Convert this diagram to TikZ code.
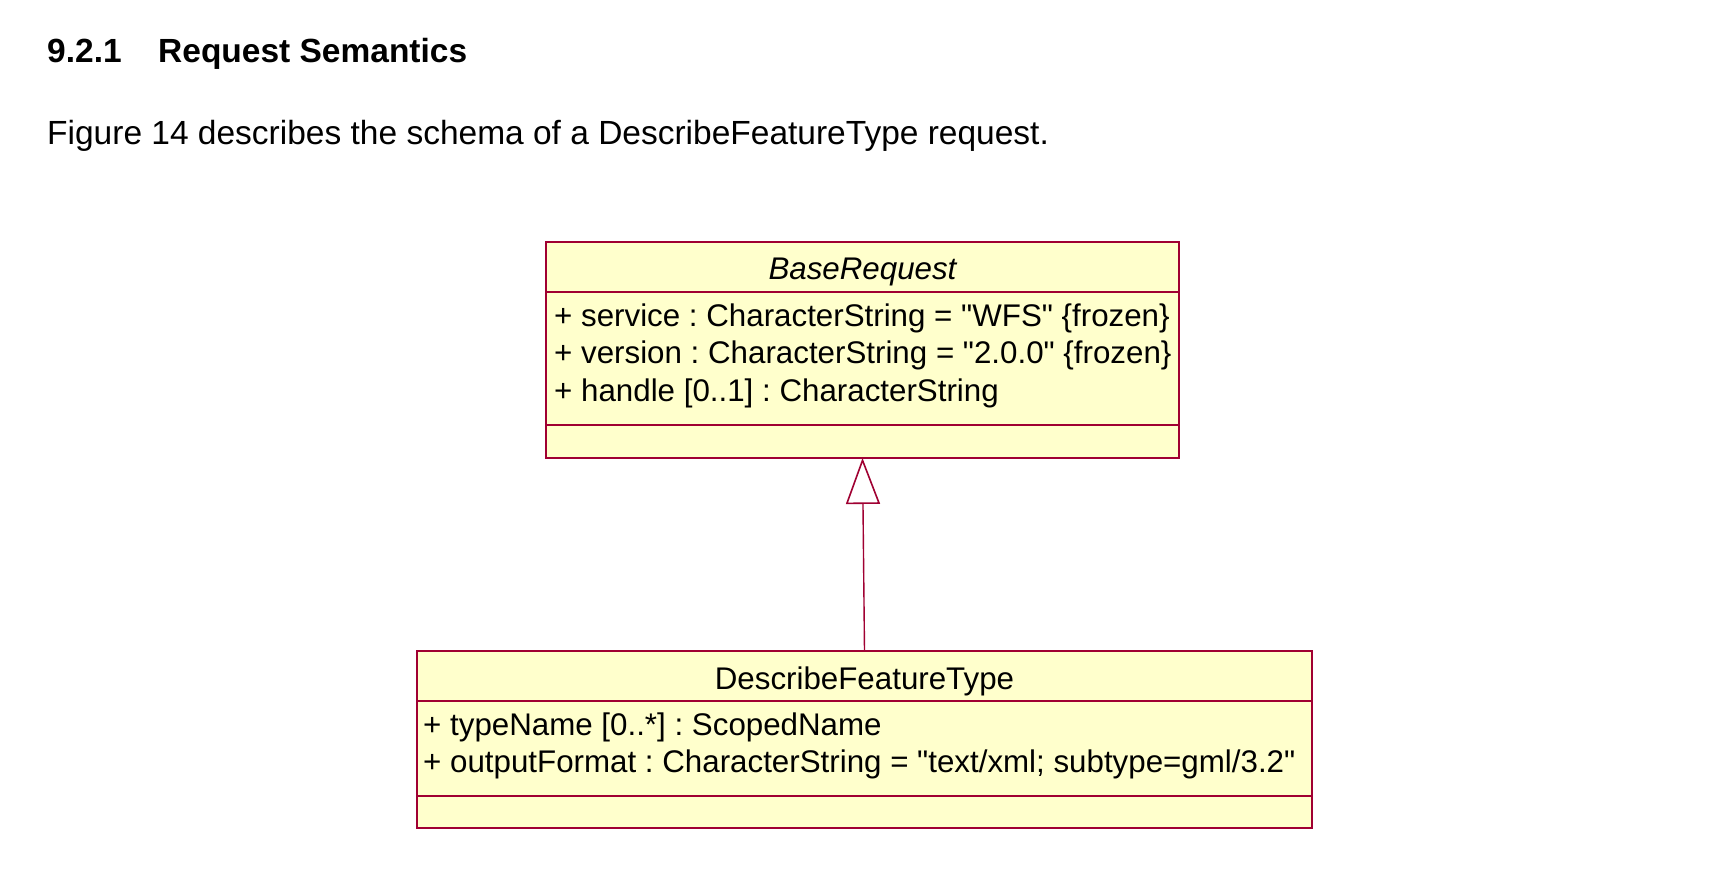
\documentclass[tikz,border=0pt]{standalone}
\usepackage{fontspec}
\setmainfont{Liberation Sans}
\newfontfamily\plainfont{Liberation Sans}
\usetikzlibrary{arrows.meta}
\frenchspacing
\definecolor{umlfill}{RGB}{255,255,204}
\definecolor{umlline}{RGB}{160,0,50}
\newcommand{\dq}{{\plainfont"}}
\tikzset{
  classbox/.style={draw=umlline, fill=umlfill, line width=1.8pt, anchor=north west, inner sep=0pt, outer sep=0pt},
  sepline/.style={draw=umlline, line width=1.2pt},
  txt/.style={inner sep=0pt, anchor=base west, font=\fontsize{31.3}{37}\selectfont},
  ctitle/.style={inner sep=0pt, anchor=base, font=\fontsize{31.3}{37}\selectfont},
  body/.style={inner sep=0pt, anchor=base west, font=\fontsize{33.5}{40}\selectfont},
  gen/.style={draw=umlline, line width=1.4pt, -{Triangle[open, length=46pt, width=34pt, line width=1.6pt]}}
}
\begin{document}
\begin{tikzpicture}[x=1pt, y=-1pt]
\useasboundingbox[fill=white] (0,0) rectangle (1709,883);
% heading and text
\node[body, font=\fontsize{33.5}{40}\selectfont\bfseries] (hnum) at (47,63) {9.2.1};
\node[body, font=\fontsize{33.5}{40}\selectfont\bfseries] (htitle) at (158,63) {Request Semantics};
\node[body] (para) at (47,144) {Figure 14 describes the schema of a DescribeFeatureType request.};
% BaseRequest class
\node[classbox, minimum width=633pt, minimum height=216pt] (base) at (546,242) {};
\draw[sepline] (546,292) -- (1179,292);
\draw[sepline] (546,425) -- (1179,425);
\node[ctitle, font=\fontsize{31.3}{37}\selectfont\itshape] (baseT) at (862.5,279) {BaseRequest};
\node[txt] (a1) at (554,326) {+ service : CharacterString = \dq WFS\dq{} \{frozen\}};
\node[txt] (a2) at (554,363) {+ version : CharacterString = \dq 2.0.0\dq{} \{frozen\}};
\node[txt] (a3) at (554,401) {+ handle [0..1] : CharacterString};
% DescribeFeatureType class
\node[classbox, minimum width=895pt, minimum height=177pt] (dft) at (417,651) {};
\draw[sepline] (417,701) -- (1312,701);
\draw[sepline] (417,796) -- (1312,796);
\node[ctitle] (dftT) at (864.5,689) {DescribeFeatureType};
\node[txt] (b1) at (423,735) {+ typeName [0..*] : ScopedName};
\node[txt] (b2) at (423,772) {+ outputFormat : CharacterString = \dq text/xml; subtype=gml/3.2\dq};
% generalization
\draw[gen] (dft.north) -- (base.south);
\end{tikzpicture}
\end{document}
